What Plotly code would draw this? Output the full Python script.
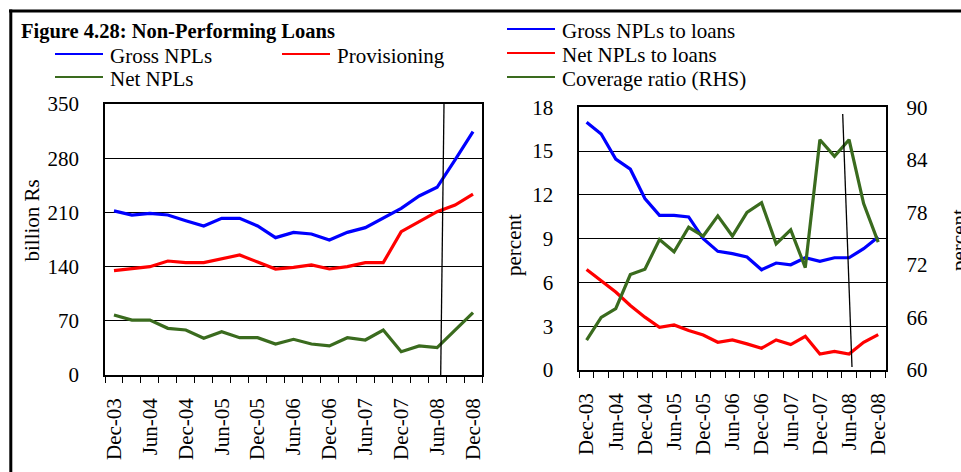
import plotly.graph_objects as go

# Quarterly observations, Dec-03 .. Dec-08
quarters = ["Dec-03", "Mar-04", "Jun-04", "Sep-04", "Dec-04", "Mar-05", "Jun-05",
            "Sep-05", "Dec-05", "Mar-06", "Jun-06", "Sep-06", "Dec-06", "Mar-07",
            "Jun-07", "Sep-07", "Dec-07", "Mar-08", "Jun-08", "Sep-08", "Dec-08"]
tick_labels = ["Dec-03", "Jun-04", "Dec-04", "Jun-05", "Dec-05", "Jun-06",
               "Dec-06", "Jun-07", "Dec-07", "Jun-08", "Dec-08"]

# Left panel: billion Rs
gross_npls = [212.0, 206.6, 208.8, 206.6, 199.3, 192.4, 202.3, 202.3, 192.4, 177.4, 184.2,
              182.1, 174.3, 184.2, 190.3, 202.3, 215.2, 231.2, 242.4, 277.7, 314.3]
provisioning = [134.7, 136.9, 139.9, 147.2, 145.1, 145.1, 149.8, 155.0, 145.9, 136.9, 139.0,
                142.1, 136.9, 139.9, 145.1, 145.1, 185.1, 198.0, 210.9, 219.5, 233.7]
net_npls = [77.5, 71.0, 71.0, 60.3, 58.1, 47.4, 56.0, 48.2, 48.2, 40.0, 46.1,
            40.0, 37.5, 48.2, 45.2, 58.1, 30.1, 37.5, 35.3, 58.1, 80.5]

# Right panel: percent
gross_to_loans = [16.97, 16.17, 14.45, 13.76, 11.75, 10.60, 10.60, 10.49, 9.00, 8.13, 7.97,
                  7.74, 6.87, 7.33, 7.21, 7.69, 7.44, 7.69, 7.69, 8.31, 9.11]
net_to_loans = [6.89, 6.14, 5.34, 4.42, 3.62, 2.93, 3.09, 2.70, 2.40, 1.90, 2.06,
                1.79, 1.49, 2.06, 1.74, 2.31, 1.10, 1.28, 1.10, 1.90, 2.43]
coverage_ratio = [63.4, 66.0, 67.0, 70.9, 71.5, 74.9, 73.5, 76.3, 75.3, 77.6, 75.3,
                  78.0, 79.1, 74.4, 76.0, 71.7, 86.3, 84.4, 86.3, 79.0, 74.6]

left_names = ["Gross NPLs", "Provisioning", "Net NPLs"]
right_names = ["Gross NPLs to loans", "Net NPLs to loans", "Coverage ratio (RHS)"]

BLUE, RED, GREEN = "#0000FF", "#FF0000", "#3A6B1E"
FONT = "Liberation Serif"
W, H = 961, 472

x = list(range(len(quarters)))
tickpos = [quarters.index(t) for t in tick_labels]
bounds = [i - 0.5 for i in range(len(quarters) + 1)]


def px(p):
    return p / W


def py(p):
    return 1 - p / H


fig = go.Figure()
line_w = 3.2
fig.add_trace(go.Scatter(x=x, y=gross_npls, mode="lines", line=dict(color=BLUE, width=line_w),
                         name=left_names[0], xaxis="x", yaxis="y"))
fig.add_trace(go.Scatter(x=x, y=provisioning, mode="lines", line=dict(color=RED, width=line_w),
                         name=left_names[1], xaxis="x", yaxis="y"))
fig.add_trace(go.Scatter(x=x, y=net_npls, mode="lines", line=dict(color=GREEN, width=line_w),
                         name=left_names[2], xaxis="x", yaxis="y"))
fig.add_trace(go.Scatter(x=x, y=gross_to_loans, mode="lines", line=dict(color=BLUE, width=line_w),
                         name=right_names[0], xaxis="x2", yaxis="y2"))
fig.add_trace(go.Scatter(x=x, y=net_to_loans, mode="lines", line=dict(color=RED, width=line_w),
                         name=right_names[1], xaxis="x2", yaxis="y2"))
fig.add_trace(go.Scatter(x=x, y=coverage_ratio, mode="lines", line=dict(color=GREEN, width=line_w),
                         name=right_names[2], xaxis="x2", yaxis="y3"))

tick_font = dict(family=FONT, size=21, color="black")

xcommon = dict(
    range=[-0.5, len(quarters) - 0.5], tickmode="array", tickvals=tickpos, ticktext=tick_labels,
    tickangle=-90, ticks="", tickfont=tick_font, showgrid=False, zeroline=False,
    showline=True, linecolor="black", linewidth=1.5, mirror=True, ticklabelstandoff=13,
    automargin=False,
    minor=dict(tickmode="array", tickvals=bounds, ticks="outside", ticklen=6,
               tickcolor="black", tickwidth=1.2, showgrid=False),
)
ycommon = dict(
    ticks="", tickfont=tick_font, showgrid=True, gridcolor="black", gridwidth=1.3,
    zeroline=False, showline=True, linecolor="black", linewidth=1.5, mirror=True,
    ticklabelstandoff=20, automargin=False,
)

fig.update_layout(
    width=W, height=H, margin=dict(l=0, r=0, t=0, b=0, pad=0, autoexpand=False),
    paper_bgcolor="white", plot_bgcolor="white", showlegend=False,
    xaxis=dict(domain=[px(105), px(482)], anchor="y", **xcommon),
    yaxis=dict(domain=[py(375), py(104)], anchor="x", range=[0, 350], dtick=70, **ycommon),
    xaxis2=dict(domain=[px(579.3), px(885.5)], anchor="y2", **xcommon),
    yaxis2=dict(domain=[py(370), py(107.3)], anchor="x2", range=[0, 18], dtick=3, **ycommon),
    yaxis3=dict(overlaying="y2", anchor="x2", side="right", range=[60, 90], dtick=6,
                ticks="", tickfont=tick_font, showgrid=False, zeroline=False,
                showline=False, ticklabelstandoff=20, automargin=False),
)

shapes = []
annotations = []

# outer frame of the figure box
shapes.append(dict(type="line", xref="paper", yref="paper", x0=px(9), x1=px(961),
                   y0=py(11), y1=py(11), line=dict(color="black", width=3)))
shapes.append(dict(type="line", xref="paper", yref="paper", x0=px(10.8), x1=px(10.8),
                   y0=py(9.5), y1=py(472), line=dict(color="black", width=3)))

# hand-drawn marker lines near Jun-08
shapes.append(dict(type="line", xref="paper", yref="paper", x0=px(444), x1=px(440.7),
                   y0=py(104), y1=py(375), line=dict(color="black", width=1.3)))
shapes.append(dict(type="line", xref="paper", yref="paper", x0=px(842.7), x1=px(852),
                   y0=py(114), y1=py(367), line=dict(color="black", width=1.3)))

# title
annotations.append(dict(text="<b>Figure 4.28: Non-Performing Loans</b>", xref="paper", yref="paper",
                        x=px(19), y=py(31), xanchor="left", yanchor="middle", showarrow=False,
                        font=dict(family=FONT, size=20.5, color="black")))

legend_font = dict(family=FONT, size=21, color="black")


def legend_item(name, color, lx, ly):
    shapes.append(dict(type="line", xref="paper", yref="paper", x0=px(lx), x1=px(lx + 48),
                       y0=py(ly), y1=py(ly), line=dict(color=color, width=2)))
    annotations.append(dict(text=name, xref="paper", yref="paper", x=px(lx + 53), y=py(ly + 2),
                            xanchor="left", yanchor="middle", showarrow=False, font=legend_font))


legend_item(left_names[0], BLUE, 55, 54)
legend_item(left_names[1], RED, 282, 54)
legend_item(left_names[2], GREEN, 55, 77)
legend_item(right_names[0], BLUE, 507, 29)
legend_item(right_names[1], RED, 507, 53)
legend_item(right_names[2], GREEN, 507, 77)

# axis titles
annotations.append(dict(text="billion Rs", xref="paper", yref="paper", x=px(31.5), y=py(221),
                        xanchor="center", yanchor="middle", textangle=-90, showarrow=False,
                        font=legend_font))
annotations.append(dict(text="percent", xref="paper", yref="paper", x=px(514), y=py(245),
                        xanchor="center", yanchor="middle", textangle=-90, showarrow=False,
                        font=legend_font))
annotations.append(dict(text="percent", xref="paper", yref="paper", x=px(959), y=py(240),
                        xanchor="center", yanchor="middle", textangle=-90, showarrow=False,
                        font=legend_font))

fig.update_layout(shapes=shapes, annotations=annotations)
fig.write_html("out.html")
